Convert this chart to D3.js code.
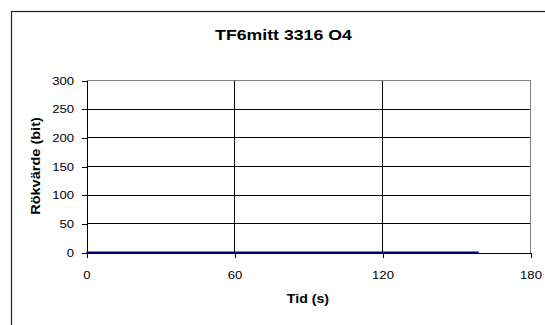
<!DOCTYPE html>
<html>
<head>
<meta charset="utf-8">
<script src="https://cdn.jsdelivr.net/npm/d3@7"></script>
<style>
  html, body { margin: 0; padding: 0; background: #fff; }
  svg { display: block; }
  text { font-family: Arial, "Liberation Sans", sans-serif; fill: #000; }
</style>
</head>
<body>
<div id="chart"></div>
<script>
// Smoke reading over time (flat at zero)
const TIME  = [0, 10, 20, 30, 40, 50, 60, 70, 80, 90, 100, 110, 120, 130, 140, 150, 159];
const SMOKE = [0, 0, 0, 0, 0, 0, 0, 0, 0, 0, 0, 0, 0, 0, 0, 0, 0];
const X_TICKS = [0, 60, 120, 180];
const Y_TICKS = [0, 50, 100, 150, 200, 250, 300];

const TITLE = "TF6mitt 3316 O4";
const X_LABEL = "Tid (s)";
const Y_LABEL = "Rökvärde (bit)";

const W = 545, H = 325;
const PLOT = { left: 86.5, right: 530.5, top: 80.5, bottom: 252.5 };

const points = TIME.map((t, i) => ({ t, v: SMOKE[i] }));

// Reference text is rendered a bit wider than tall; stretch glyphs to match
function stretch(sel, k) {
  sel.each(function () {
    const w = this.getComputedTextLength();
    d3.select(this).attr("textLength", w * k).attr("lengthAdjust", "spacingAndGlyphs");
  });
}

const svg = d3.select("#chart").append("svg").attr("width", W).attr("height", H);

// outer chart frame (runs off the right/bottom edge)
svg.append("rect")
  .attr("x", 11.5).attr("y", 11.5).attr("width", W + 20).attr("height", H + 20)
  .attr("fill", "#fff").attr("stroke", "#222").attr("stroke-width", 1.2);

const x = d3.scaleLinear().domain([0, 180]).range([PLOT.left, PLOT.right]);
const y = d3.scaleLinear().domain([0, 300]).range([PLOT.bottom, PLOT.top]);

// horizontal gridlines
svg.append("g").selectAll("line").data(Y_TICKS.filter(d => d > 0 && d < 300)).join("line")
  .attr("x1", PLOT.left).attr("x2", PLOT.right)
  .attr("y1", d => y(d)).attr("y2", d => y(d))
  .attr("stroke", "#000").attr("shape-rendering", "crispEdges");

// vertical gridlines
svg.append("g").selectAll("line").data(X_TICKS.filter(d => d > 0 && d < 180)).join("line")
  .attr("x1", d => x(d)).attr("x2", d => x(d))
  .attr("y1", PLOT.top).attr("y2", PLOT.bottom)
  .attr("stroke", "#000").attr("shape-rendering", "crispEdges");

// plot area border (top + right)
svg.append("path")
  .attr("d", `M${PLOT.left},${PLOT.top}H${PLOT.right}V${PLOT.bottom}`)
  .attr("fill", "none").attr("stroke", "#808080").attr("shape-rendering", "crispEdges");

// Axes
const yAxis = svg.append("g").attr("transform", `translate(${PLOT.left},0)`)
  .call(d3.axisLeft(y).tickValues(Y_TICKS).tickSize(5).tickSizeOuter(0).tickPadding(7.5));
const xAxis = svg.append("g").attr("transform", `translate(0,${PLOT.bottom})`)
  .call(d3.axisBottom(x).tickValues(X_TICKS).tickSize(5).tickSizeOuter(0).tickPadding(13.3));

[yAxis, xAxis].forEach(a => {
  a.select(".domain").attr("stroke", "#000").attr("shape-rendering", "crispEdges");
  a.selectAll(".tick line").attr("stroke", "#000").attr("shape-rendering", "crispEdges");
  a.selectAll(".tick text").attr("font-size", "11.6px").attr("font-family", null).call(stretch, 1.13);
});

// Series
svg.append("path").datum(points)
  .attr("fill", "none").attr("stroke", "#000080").attr("stroke-width", 2)
  .attr("d", d3.line().x(d => x(d.t)).y(d => y(d.v)));

// Titles
svg.append("text").attr("x", 283.5).attr("y", 40).attr("text-anchor", "middle")
  .attr("font-size", "15px").attr("font-weight", "bold").text(TITLE).call(stretch, 1.18);

svg.append("text").attr("x", 308).attr("y", 302.5).attr("text-anchor", "middle")
  .attr("font-size", "12px").attr("font-weight", "bold").text(X_LABEL).call(stretch, 1.18);

svg.append("text").attr("transform", "translate(40,166) rotate(-90)").attr("text-anchor", "middle")
  .attr("font-size", "12px").attr("font-weight", "bold").text(Y_LABEL).call(stretch, 1.21);
</script>
</body>
</html>
